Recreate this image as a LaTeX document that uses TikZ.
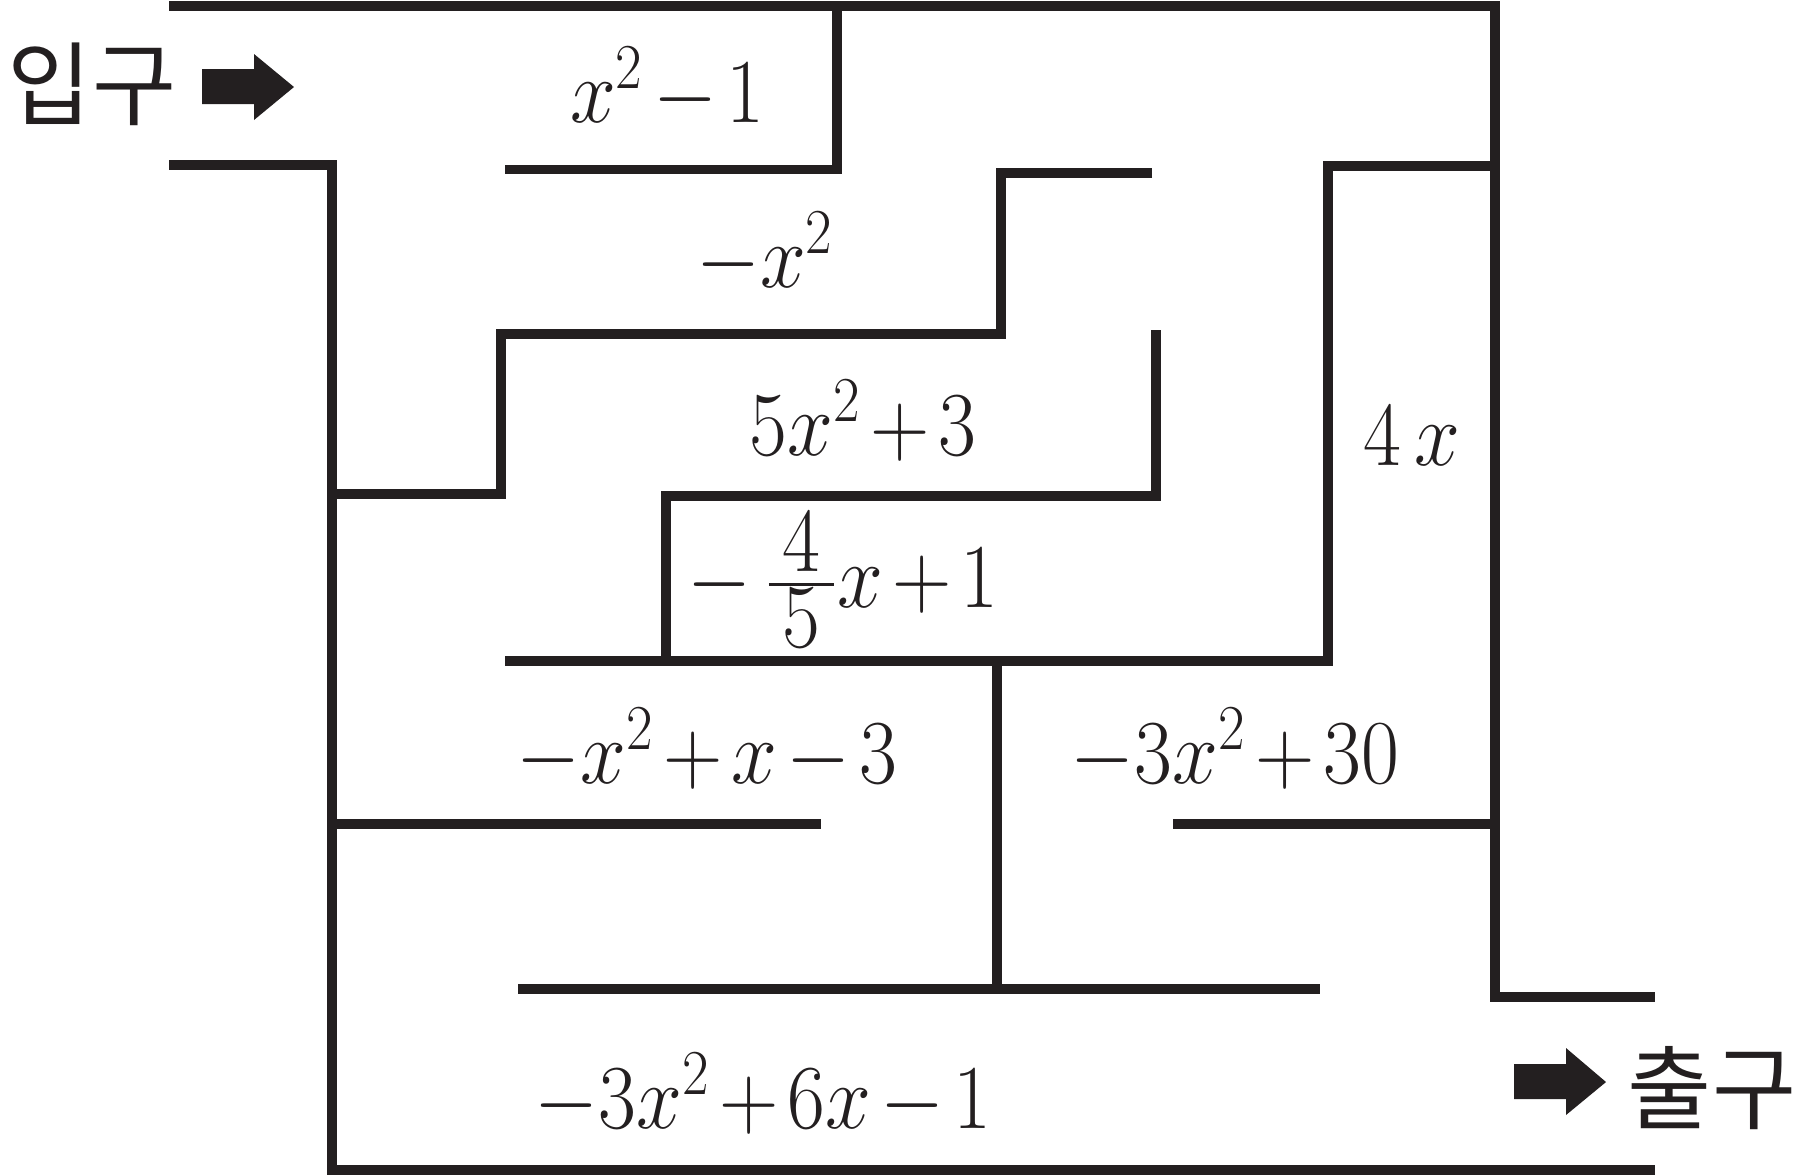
\RequirePackage{fix-cm}
\documentclass[tikz,border=0pt]{standalone}
\usepackage{fontspec}
\usepackage{amsmath}
\newfontfamily\hangul{Noto Sans CJK KR}
\definecolor{ink}{HTML}{231F20}
\tikzset{
  wall/.style={line width=0.095cm,color=ink,line join=miter},
  expr/.style={inner sep=0pt,anchor=base,text=ink,font=\fontsize{26}{30}\selectfont},
  word/.style={inner sep=0pt,anchor=center,text=ink,font=\hangul\fontsize{26}{30}\selectfont}
}
\newcommand{\squeeze}[1]{\scalebox{0.9}[1]{$\medmuskip=2mu #1$}}
\begin{document}
\begin{tikzpicture}[line join=miter,x=0.01cm,y=-0.01cm]
\useasboundingbox (0,0) rectangle (1804,1175);
                \draw [wall] (169,6)-- (1495,6)-- (1495,997)-- (1655,997);
                \draw [wall] (169,165)-- (332,165)-- (332,1170)-- (1655,1170);
                \draw [wall] (837,6)-- (837,169.5)-- (505,169.5);
                \draw [wall] (1152,173)-- (1001,173)-- (1001,334)-- (501,334)-- (501,494)-- (332,494);
                \draw [wall] (1156,330)-- (1156,496)-- (666,496)-- (666,661);
                \draw [wall] (505,661)-- (1328,661)-- (1328,166)-- (1495,166);
                \draw [wall] (997,661)-- (997,989);
                \draw [wall] (518,989)-- (1320,989);
                \draw [wall] (332,824)-- (821,824);
                \draw [wall] (1173,824)-- (1495,824);
                \fill [ink] (202,69)-- (254,69)-- (254,54)-- (294,87)-- (254,120)-- (254,104)-- (202,104)-- cycle;
                \fill [ink] (1514,1064)-- (1566,1064)-- (1566,1048)-- (1606,1082)-- (1566,1115)-- (1566,1099)-- (1514,1099)-- cycle;
                \node[word] (entry) at (92,84) {입구};
                \node[word] (exit) at (1712,1088) {출구};
                \node[expr] (p1) at (667,122) {\squeeze{x^2-1}};
                \node[expr] (p2) at (765,287) {\squeeze{-x^2}};
                \node[expr] (p3) at (863,455) {\squeeze{5x^2+3}};
                \node[expr] (p4) at (843,607) {\squeeze{-\,\genfrac{}{}{0.9pt}{}{\textstyle\,4\,}{\textstyle\,5\,}x+1}};
                \node[expr] (p5) at (1412,465) {\squeeze{4\,x}};
                \node[expr] (p6) at (707,783) {\squeeze{-x^2+x-3}};
                \node[expr] (p7) at (1235,783) {\squeeze{-3x^2+30}};
                \node[expr] (p8) at (763,1128) {\squeeze{-3x^2+6x-1}};
\end{tikzpicture}
\end{document}
